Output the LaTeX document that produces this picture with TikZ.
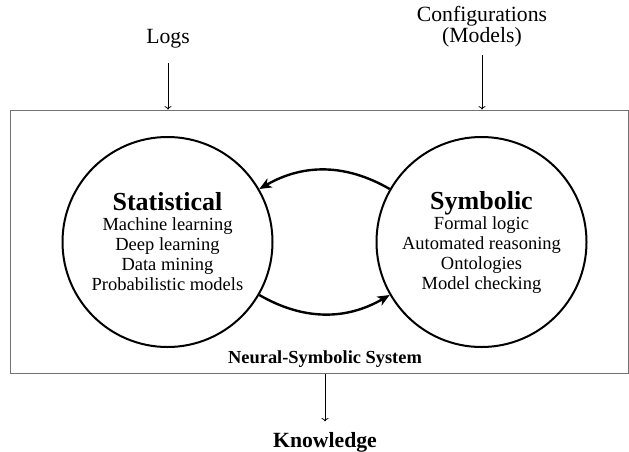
\documentclass[tikz,border=0pt]{standalone}
\usepackage{fontspec}
\setmainfont{Liberation Serif}
\usetikzlibrary{arrows.meta}

\tikzset{
  bigcircle/.style={circle, draw, line width=2pt, minimum size=210pt, inner sep=0pt, align=center,
    font=\fontsize{18.5}{20}\selectfont},
  sysbox/.style={draw=black!55, line width=1pt, minimum width=618pt, minimum height=263pt, inner sep=0pt},
  toplabel/.style={align=center, font=\fontsize{21.7}{19.7}\selectfont},
  thinarrow/.style={->, line width=0.8pt},
  bendarrow/.style={-{Stealth[length=12pt,width=10pt,inset=3pt]}, line width=2.4pt}
}

\begin{document}
\begin{tikzpicture}[x=1pt,y=-1pt]
\useasboundingbox (0,0) rectangle (629,451);
% define variables
\pgfmathparse{242}\let\cy=\pgfmathresult

% outer system box
\node[sysbox] (sys) at (319,241.5) {};
\node[anchor=base, font=\fontsize{18.4}{20}\selectfont\bfseries] (syslbl) at (325,363) {Neural-Symbolic System};

% draw the two circles
\node[bigcircle] (stat) at (167.5,\cy) {{\fontsize{26}{20}\selectfont\bfseries Statistical}\\
  Machine learning\\ Deep learning\\ Data mining\\ Probabilistic models};
\node[bigcircle] (sym) at (481.5,\cy) {{\fontsize{26}{20}\selectfont\bfseries Symbolic}\\
  Formal logic\\ Automated reasoning\\ Ontologies\\ Model checking};

% arrows between circles
\draw[bendarrow] (sym.150) to[bend right=30] (stat.30);
\draw[bendarrow] (stat.-30) to[bend right=30] (sym.210);

% inputs
\node[toplabel, anchor=base] (logs) at (168,43) {Logs};
\node[toplabel, anchor=south] (conf) at (482,50.6) {Configurations\\(Models)};
\draw[thinarrow, shorten <=12pt] (logs.south) -- (logs.south |- sys.north);
\draw[thinarrow, shorten <=4.4pt] (conf.south) -- (conf.south |- sys.north);

% output
\node[anchor=base, font=\fontsize{21.7}{22}\selectfont\bfseries] (know) at (325,447) {Knowledge};
\draw[thinarrow, shorten >=7pt] (know.north |- sys.south) -- (know.north);
\end{tikzpicture}
\end{document}
